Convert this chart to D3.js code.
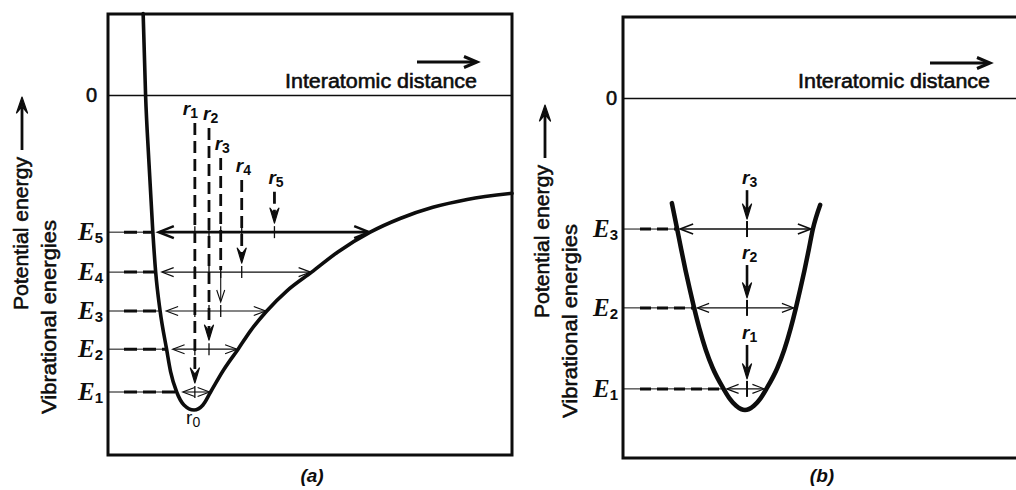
<!DOCTYPE html>
<html>
<head>
<meta charset="utf-8">
<script src="https://cdn.jsdelivr.net/npm/d3@7/dist/d3.min.js"></script>
<style>
  body { margin: 0; background: #fff; }
  svg { display: block; }
</style>
</head>
<body>
<svg id="chart" width="1016" height="490"></svg>
<script>
// ---------- Panel (a): anharmonic potential well ----------
const wellDistA   = [0.87, 0.93, 1.01, 1.11, 1.18, 1.29, 1.45, 1.55, 1.70, 1.88, 2.13, 2.35, 2.54, 2.86, 3.22, 3.54, 3.93, 4.43, 5.04, 5.69, 6.49, 7.23, 8.04, 8.89, 10.0];
const wellEnergyA = [2.26, 0.00, -1.80, -3.81, -4.92, -6.00, -7.06, -7.69, -8.25, -8.61, -8.75, -8.61, -8.25, -7.64, -7.06, -6.53, -6.00, -5.44, -4.92, -4.36, -3.81, -3.43, -3.12, -2.90, -2.73];
const levelsA     = [-8.25, -7.06, -6.00, -4.92, -3.81];   // E1 .. E5
const levelNamesA = ["1", "2", "3", "4", "5"];
const meanDistA   = [2.15, 2.50, 2.79, 3.31, 4.12];        // r1 .. r5
const meanTopA    = [-0.78, -0.92, -1.75, -2.36, -2.69];   // where each r marker starts
const eqDistA     = 2.13;                                  // r0
const eqEnergyA   = -8.75;

// ---------- Panel (b): harmonic (parabolic) well ----------
const wellDistB   = [1.21, 1.34, 1.44, 1.55, 1.65, 1.76, 1.89, 2.05, 2.22, 2.49, 2.64, 2.80, 3.02, 3.24, 3.40, 3.55, 3.82, 3.99, 4.15, 4.28, 4.39, 4.49, 4.60, 4.70, 4.88];
const wellEnergyB = [-2.92, -3.64, -4.20, -4.80, -5.30, -5.83, -6.40, -7.00, -7.50, -8.08, -8.35, -8.55, -8.67, -8.55, -8.35, -8.08, -7.50, -7.00, -6.40, -5.83, -5.30, -4.80, -4.20, -3.64, -2.97];
const levelsB     = [-8.08, -5.83, -3.64];                 // E1 .. E3
const levelNamesB = ["1", "2", "3"];
const meanDistB   = [3.07, 3.07, 3.07];                    // r1 .. r3
const meanTopB    = [-6.86, -4.64, -2.56];

// ---------- Axis text ----------
const zeroTicks   = [0];
const energyTitle = "Potential energy";
const levelTitle  = "Vibrational energies";
const distTitle   = "Interatomic distance";
const panelTags   = ["(a)", "(b)"];

const INK = "#0d0d0d";
const SANS = "'Liberation Sans', Arial, Helvetica, sans-serif";
const SERIF = "'Liberation Serif', 'Times New Roman', serif";

const svg = d3.select("#chart");

// ---------- helpers ----------
function crossings(dist, energy, e) {
  const xs = [];
  for (let i = 0; i < dist.length - 1; i++) {
    const e0 = energy[i], e1 = energy[i + 1];
    if (e0 !== e1 && (e0 - e) * (e1 - e) <= 0) {
      const t = (e - e0) / (e1 - e0);
      xs.push(dist[i] + t * (dist[i + 1] - dist[i]));
    }
  }
  return [d3.min(xs), d3.max(xs)];
}

// open chevron head, pointing along (dx, dy) with its tip at (x, y)
function chevron(g, x, y, dx, dy, len, half, width) {
  const bx = x - dx * len, by = y - dy * len;
  const px = -dy * half, py = dx * half;
  g.append("path")
    .attr("d", `M${bx + px},${by + py}L${x},${y}L${bx - px},${by - py}`)
    .attr("fill", "none").attr("stroke", INK)
    .attr("stroke-width", width).attr("stroke-linejoin", "miter");
}

// filled notched head pointing down (dy=1) or up (dy=-1)
function solidHeadV(g, x, tipY, dy, len, half) {
  const by = tipY - dy * len, ny = tipY - dy * len * 0.6;
  g.append("path")
    .attr("d", `M${x},${tipY}L${x - half},${by}L${x},${ny}L${x + half},${by}Z`)
    .attr("fill", INK).attr("stroke", INK).attr("stroke-width", 1.2)
    .attr("stroke-linejoin", "round");
}

function energyLabel(g, x, y, digit) {
  const t = g.append("text")
    .attr("x", x).attr("y", y + 8)
    .attr("text-anchor", "end").attr("fill", INK);
  t.append("tspan").text("E")
    .attr("font-family", SERIF).attr("font-style", "italic")
    .attr("font-weight", "bold").attr("font-size", 25);
  t.append("tspan").text(digit)
    .attr("font-family", SANS).attr("font-weight", "bold")
    .attr("font-size", 15).attr("dy", 3);
}

function distLabel(g, x, y, digit, italic) {
  const t = g.append("text").attr("x", x).attr("y", y).attr("fill", INK);
  t.append("tspan").text("r")
    .attr("font-family", SANS).attr("font-style", italic ? "italic" : "normal")
    .attr("font-weight", italic ? "bold" : "normal").attr("font-size", 19);
  t.append("tspan").text(digit)
    .attr("font-family", SANS).attr("font-weight", italic ? "bold" : "normal")
    .attr("font-size", 14).attr("dy", 3);
}

// sans text drawn slightly heavier than the regular face
function heavy(sel) {
  return sel.attr("stroke", INK).attr("stroke-width", 0.55).attr("paint-order", "stroke");
}

// ---------- shared panel pieces ----------
function drawPanel(p) {
  const g = svg.append("g");
  const { x, y } = p;
  const x0 = x(0), x1 = x(10), yTop = y(2.25), yBot = y(-10);

  // frame
  g.append("rect")
    .attr("x", x0).attr("y", yTop)
    .attr("width", x1 - x0).attr("height", yBot - yTop)
    .attr("fill", "none").attr("stroke", INK).attr("stroke-width", 3);

  // zero line with its "0" tick
  const zeroAxis = d3.axisLeft(y)
    .tickValues(zeroTicks)
    .tickSize(-(Math.min(x1, 1016) - x0))
    .tickPadding(p.zeroPad)
    .tickFormat(d3.format("d"));
  g.append("g")
    .attr("transform", `translate(${x0},0)`)
    .call(zeroAxis)
    .call(a => a.select(".domain").remove())
    .call(a => a.selectAll("line").attr("stroke", INK).attr("stroke-width", 1.3))
    .call(a => heavy(a.selectAll("text")
      .attr("font-family", SANS).attr("font-size", 20).attr("fill", INK)));

  // distance title with its arrow
  heavy(g.append("text")
    .attr("x", p.distTitleEnd).attr("y", 88)
    .attr("text-anchor", "end")
    .attr("font-family", SANS).attr("font-size", 19.5)
    .attr("textLength", 192).attr("lengthAdjust", "spacingAndGlyphs")
    .attr("fill", INK).text(distTitle));
  g.append("line")
    .attr("x1", p.distTitleEnd - 60).attr("x2", p.distTitleEnd - 2)
    .attr("y1", p.distArrowY).attr("y2", p.distArrowY)
    .attr("stroke", INK).attr("stroke-width", 3);
  chevron(g, p.distTitleEnd, p.distArrowY, 1, 0, 13, 5.5, 3);

  // energy titles (rotated)
  heavy(g.append("text")
    .attr("transform", `translate(${p.titleX1},${p.titleBottom1}) rotate(-90)`)
    .attr("font-family", SANS).attr("font-size", 21)
    .attr("textLength", 153).attr("lengthAdjust", "spacingAndGlyphs")
    .attr("fill", INK).text(energyTitle));
  g.append("line")
    .attr("x1", p.arrowX).attr("x2", p.arrowX)
    .attr("y1", p.titleBottom1 - 160).attr("y2", p.titleBottom1 - 203)
    .attr("stroke", INK).attr("stroke-width", 2.8);
  solidHeadV(g, p.arrowX, p.titleBottom1 - 213, -1, 16, 5.5);

  heavy(g.append("text")
    .attr("transform", `translate(${p.titleX2},${p.titleBottom2}) rotate(-90)`)
    .attr("font-family", SANS).attr("font-size", 21)
    .attr("textLength", 194).attr("lengthAdjust", "spacingAndGlyphs")
    .attr("fill", INK).text(levelTitle));

  // panel tag
  g.append("text")
    .attr("x", p.tagX).attr("y", 482)
    .attr("text-anchor", "middle")
    .attr("font-family", SANS).attr("font-style", "italic").attr("font-weight", "bold")
    .attr("font-size", 19).attr("fill", INK).text(p.tag);

  return g;
}

function drawLevels(g, p, dist, energy, levels, names, meanDist) {
  const { x, y } = p;
  levels.forEach((e, k) => {
    const yy = y(e);
    const [lo, hi] = crossings(dist, energy, e);
    // level marker from the axis to the wall
    g.append("line")
      .attr("x1", x(0)).attr("x2", x(lo)).attr("y1", yy).attr("y2", yy)
      .attr("stroke", INK).attr("stroke-width", 1);
    g.append("line")
      .attr("x1", x(0) + p.dashStart).attr("x2", x(lo) - 1).attr("y1", yy).attr("y2", yy)
      .attr("stroke", INK).attr("stroke-width", 3).attr("stroke-dasharray", p.levelDash);
    energyLabel(g, x(0) - 5, yy, names[k]);

    // vibration amplitude arrow between the two walls
    const top = k === levels.length - 1;
    const w = top ? p.topArrowWidth : 1.1;
    const xl = x(lo) + p.insetL, xr = x(hi) - p.insetR;
    g.append("line")
      .attr("x1", xl + 1).attr("x2", xr - 1).attr("y1", yy).attr("y2", yy)
      .attr("stroke", INK).attr("stroke-width", w);
    const len = top ? p.topHeadLen : 12, half = top ? p.topHeadHalf : 4.5;
    chevron(g, xl, yy, -1, 0, len, half, w);
    chevron(g, xr, yy, 1, 0, len, half, w);

    // ticks where the mean-distance markers cross this level
    meanDist.forEach((r, j) => {
      if (p.ticksUpTo ? j > k : j !== k) return;
      g.append("line")
        .attr("x1", x(r)).attr("x2", x(r))
        .attr("y1", yy - p.tickHalf).attr("y2", yy + p.tickHalf)
        .attr("stroke", INK).attr("stroke-width", p.tickWidth);
    });
  });
}

const wellLine = (dist, energy, x, y) => d3.line()
  .x(i => x(dist[i])).y(i => y(energy[i]))
  .curve(d3.curveMonotoneX)(d3.range(dist.length));

// ---------- panel (a) ----------
const xA = d3.scaleLinear().domain([0, 10]).range([108, 512]);
const yA = d3.scaleLinear().domain([-10, 2.25]).range([455, 14]);
const pA = {
  x: xA, y: yA, zeroPad: 11, distTitleEnd: 477, distArrowY: 62,
  titleX1: 28, titleBottom1: 310, arrowX: 22, titleX2: 56, titleBottom2: 414,
  tagX: 312, tag: panelTags[0],
  dashStart: 16, levelDash: "13,6",
  insetL: 6, insetR: 1, topArrowWidth: 2.6, topHeadLen: 15, topHeadHalf: 6,
  tickHalf: 6, tickWidth: 1.3, ticksUpTo: true
};
const gA = drawPanel(pA);

// mean-distance markers r1..r5 (dashed, ending in an arrow above each level)
meanDistA.forEach((r, k) => {
  const xx = xA(r);
  const yStart = yA(meanTopA[k]);
  const tip = yA(levelsA[k]) - 9;
  if (k === 2) {
    // r3: dashed down to E4, then a light arrow
    const yMid = yA(levelsA[3]);
    gA.append("line").attr("x1", xx).attr("x2", xx).attr("y1", yStart).attr("y2", yMid - 2)
      .attr("stroke", INK).attr("stroke-width", 2.8).attr("stroke-dasharray", "12,6");
    gA.append("line").attr("x1", xx).attr("x2", xx).attr("y1", yMid).attr("y2", tip - 1)
      .attr("stroke", INK).attr("stroke-width", 1.1);
    chevron(gA, xx, tip, 0, 1, 12, 4, 1.1);
  } else {
    gA.append("line").attr("x1", xx).attr("x2", xx).attr("y1", yStart).attr("y2", tip - 10)
      .attr("stroke", INK).attr("stroke-width", 2.8).attr("stroke-dasharray", "12,6");
    solidHeadV(gA, xx, tip, 1, 15, 4.5);
  }
  distLabel(gA, xx + (k === 0 ? -12 : -6), yStart - 8, String(k + 1), true);
});

drawLevels(gA, pA, wellDistA, wellEnergyA, levelsA, levelNamesA, meanDistA);

gA.append("path")
  .attr("d", wellLine(wellDistA, wellEnergyA, xA, yA))
  .attr("fill", "none").attr("stroke", INK).attr("stroke-width", 3.6)
  .attr("stroke-linecap", "round").attr("stroke-linejoin", "round");

distLabel(gA, xA(eqDistA) - 8, yA(eqEnergyA) + 14, "0", false);

// ---------- panel (b) ----------
const xB = d3.scaleLinear().domain([0, 10]).range([623, 1027]);
const yB = d3.scaleLinear().domain([-10, 2.25]).range([458, 17]);
const pB = {
  x: xB, y: yB, zeroPad: 6, distTitleEnd: 990, distArrowY: 63,
  titleX1: 549, titleBottom1: 318, arrowX: 545, titleX2: 577, titleBottom2: 418,
  tagX: 822, tag: panelTags[1],
  dashStart: 17, levelDash: "11,6",
  insetL: 3, insetR: 2, topArrowWidth: 1.6, topHeadLen: 13, topHeadHalf: 5,
  tickHalf: 8, tickWidth: 2, ticksUpTo: false
};
const gB = drawPanel(pB);

drawLevels(gB, pB, wellDistB, wellEnergyB, levelsB, levelNamesB, meanDistB);

meanDistB.forEach((r, k) => {
  const xx = xB(r);
  const yStart = yB(meanTopB[k]);
  const tip = yB(levelsB[k]) - 10;
  gB.append("line").attr("x1", xx).attr("x2", xx).attr("y1", yStart).attr("y2", tip - 10)
    .attr("stroke", INK).attr("stroke-width", 2.6);
  solidHeadV(gB, xx, tip, 1, 15, 4.5);
  distLabel(gB, xx - 5, yStart - 6, String(k + 1), true);
});

gB.append("path")
  .attr("d", wellLine(wellDistB, wellEnergyB, xB, yB))
  .attr("fill", "none").attr("stroke", INK).attr("stroke-width", 4.5)
  .attr("stroke-linecap", "round").attr("stroke-linejoin", "round");
</script>
</body>
</html>
